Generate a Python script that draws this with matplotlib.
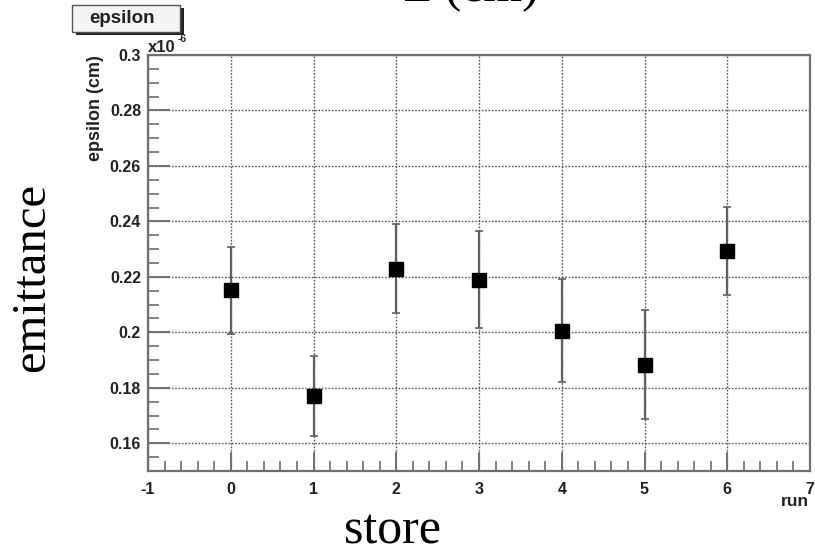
import matplotlib
matplotlib.use("Agg")
import matplotlib.pyplot as plt
from matplotlib.ticker import MultipleLocator, FixedLocator, FuncFormatter
from matplotlib.patches import Rectangle

# Data
runs = [0, 1, 2, 3, 4, 5, 6]
epsilon = [0.2152, 0.1772, 0.2230, 0.2190, 0.2005, 0.1882, 0.2292]
err_up = [0.0154, 0.0144, 0.0162, 0.0177, 0.0188, 0.0198, 0.0160]
err_lo = [0.0159, 0.0144, 0.0162, 0.0176, 0.0183, 0.0196, 0.0157]
yticks = [0.16, 0.18, 0.20, 0.22, 0.24, 0.26, 0.28, 0.30]
xticks = [-1, 0, 1, 2, 3, 4, 5, 6, 7]

W, H = 815, 554
fig = plt.figure(figsize=(W / 100, H / 100), dpi=100)
L, R, B, T = 148 / W, 810 / W, (H - 471) / H, (H - 55) / H
ax = fig.add_axes([L, B, R - L, T - B])

spine_col = "#707070"
grid_col = "#555555"

ax.errorbar(runs, epsilon, yerr=[err_lo, err_up], fmt="s", color="black",
            markersize=10, ecolor="#606060", elinewidth=1.6, capsize=3,
            capthick=1.2, zorder=3)

ax.set_xlim(-1, 7)
ax.set_ylim(0.15, 0.30)
ax.xaxis.set_major_locator(FixedLocator(xticks))
ax.xaxis.set_minor_locator(MultipleLocator(0.2))
ax.yaxis.set_major_locator(FixedLocator(yticks))
ax.yaxis.set_minor_locator(MultipleLocator(0.005))
ax.yaxis.set_major_formatter(FuncFormatter(lambda v, p: f"{v:g}"))
ax.xaxis.set_major_formatter(FuncFormatter(lambda v, p: f"{int(round(v))}"))

ax.grid(True, which="major", linestyle=(0, (1.2, 1.2)), color=grid_col, linewidth=1.0)
ax.set_axisbelow(True)

for s in ax.spines.values():
    s.set_color(spine_col)
    s.set_linewidth(1.6)

ax.tick_params(axis="both", which="both", direction="in", color=spine_col,
               top=False, right=False)
ax.tick_params(axis="x", which="major", length=14, width=1.4, pad=8)
ax.tick_params(axis="x", which="minor", length=7, width=1.2)
ax.tick_params(axis="y", which="major", length=16, width=1.4, pad=5)
ax.tick_params(axis="y", which="minor", length=8, width=1.2)
for lab in ax.get_xticklabels() + ax.get_yticklabels():
    lab.set_fontfamily("Liberation Sans")
    lab.set_fontweight("bold")
    lab.set_fontsize(11.5)
    lab.set_color("#222222")

# Axis titles (ROOT style)
fig.text(95 / W, T, "epsilon (cm)", rotation=90, ha="center", va="top",
         fontsize=13, fontweight="bold", family="Liberation Sans", color="#222222")
fig.text(795 / W, (H - 502) / H, "run", ha="center", va="center",
         fontsize=12.5, fontweight="bold", family="Liberation Sans", color="#222222")
fig.text(L, (H - 52) / H, "x10", ha="left", va="baseline",
         fontsize=12, fontweight="bold", family="Liberation Sans", color="#222222",
         zorder=6)
fig.text(L + 30 / W, (H - 42) / H, "-6", ha="left", va="baseline",
         fontsize=7.5, fontweight="bold", family="Liberation Sans", color="#222222",
         zorder=6)

# Title box "epsilon"
bx0, by0, bw, bh = 72, 5, 108, 27
fig.patches.append(Rectangle(((bx0 + 4) / W, (H - by0 - bh - 3) / H), bw / W, bh / H,
                             transform=fig.transFigure, facecolor="#222222",
                             edgecolor="none", zorder=1))
fig.patches.append(Rectangle((bx0 / W, (H - by0 - bh) / H), bw / W, bh / H,
                             transform=fig.transFigure, facecolor="#f4f4f4",
                             edgecolor="#555555", linewidth=1.0, zorder=2))
fig.text((bx0 + bw / 2 - 4) / W, (H - by0 - bh / 2) / H, "epsilon", ha="center",
         va="center", fontsize=13.5, fontweight="bold", family="Liberation Sans",
         color="#222222", zorder=3)

# Large serif annotations
fig.text(32 / W, 0.5, "emittance", rotation=90, ha="center", va="center",
         fontsize=35, family="Liberation Serif", color="black")
fig.text(392 / W, (H - 544) / H, "store", ha="center", va="baseline",
         fontsize=36, family="Liberation Serif", color="black")
fig.text(471 / W, (H - 1) / H, "Σ (cm)", ha="center", va="baseline",
         fontsize=36, family="Liberation Serif", color="black")

fig.savefig("out.png", dpi=100)
